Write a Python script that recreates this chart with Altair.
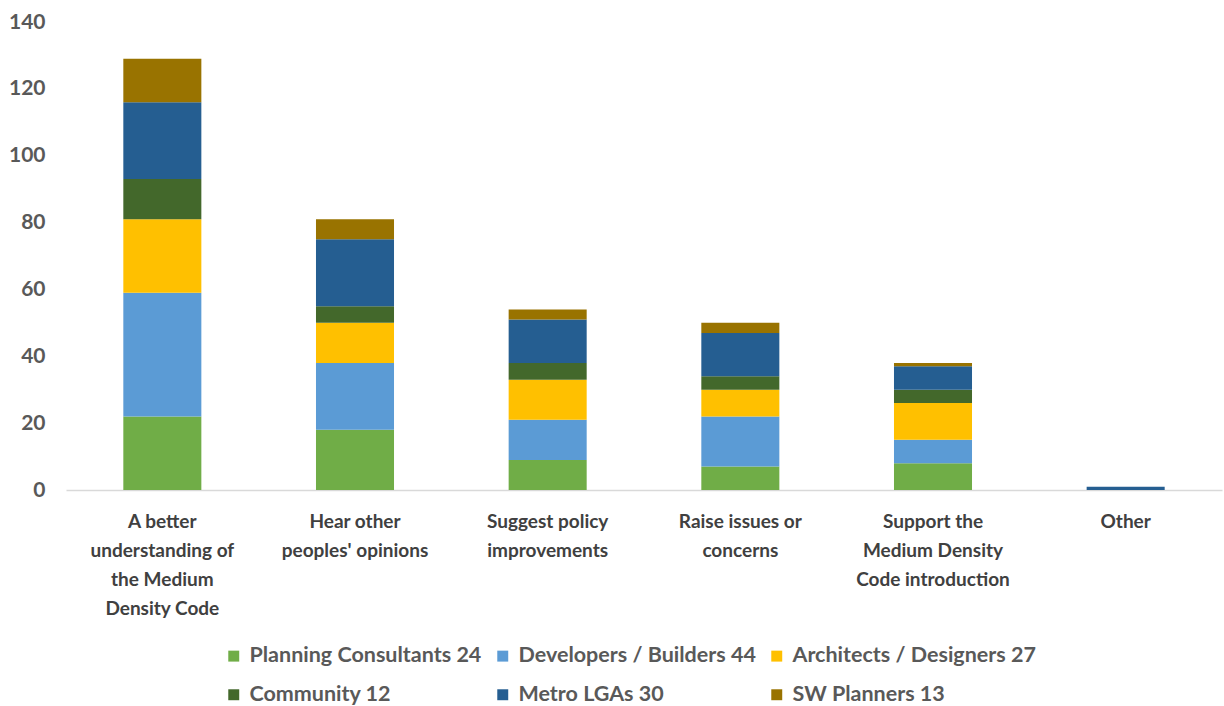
import altair as alt
import pandas as pd

categories = [
    "A better|understanding of|the Medium|Density Code",
    "Hear other|peoples' opinions",
    "Suggest policy|improvements",
    "Raise issues or|concerns",
    "Support the|Medium Density|Code introduction",
    "Other",
]
series = [
    "Planning Consultants 24",
    "Developers / Builders 44",
    "Architects / Designers 27",
    "Community 12",
    "Metro LGAs 30",
    "SW Planners 13",
]
colors = ["#70ad47", "#5b9bd5", "#ffc000", "#43682b", "#255e91", "#997300"]

planning = [22, 18, 9, 7, 8, 0]
developers = [37, 20, 12, 15, 7, 0]
architects = [22, 12, 12, 8, 11, 0]
community = [12, 5, 5, 4, 4, 0]
metro = [23, 20, 13, 13, 7, 1]
sw = [13, 6, 3, 3, 1, 0]

values = [planning, developers, architects, community, metro, sw]
rows = []
for si, (s, vals) in enumerate(zip(series, values)):
    for c, v in zip(categories, vals):
        rows.append({"cat": c, "series": s, "value": v, "idx": si})
df = pd.DataFrame(rows)

FONT = "Lato"

chart = alt.Chart(df).mark_bar(width={"band": 0.405}).encode(
    x=alt.X("cat:N", sort=categories, title=None,
            scale=alt.Scale(paddingInner=0, paddingOuter=0),
            axis=alt.Axis(labelExpr="split(datum.label, '|')", labelAngle=0,
                          labelFontSize=19, labelFontWeight="bold", labelColor="#404040",
                          labelLineHeight=29, labelPadding=22, ticks=False,
                          domainColor="#d9d9d9", domainWidth=1.5, labelFont=FONT)),
    y=alt.Y("value:Q", title=None, stack="zero",
            scale=alt.Scale(domain=[0, 140], nice=False),
            axis=alt.Axis(values=list(range(0, 141, 20)), grid=False, domain=False, ticks=False,
                          labelFontSize=21, labelFontWeight="bold", labelColor="#595959",
                          labelPadding=21, labelFont=FONT)),
    color=alt.Color("series:N", sort=series,
                    scale=alt.Scale(domain=series, range=colors),
                    legend=alt.Legend(title=None, orient="none", legendX=157, legendY=623,
                                      direction="horizontal",
                                      columns=3, symbolType="square", symbolSize=120,
                                      symbolStrokeWidth=0, labelFontSize=21.5,
                                      labelFontWeight="bold", labelColor="#595959",
                                      labelFont=FONT, rowPadding=16, columnPadding=10,
                                      labelOffset=5, labelLimit=0)),
    order=alt.Order("idx:Q", sort="ascending"),
).properties(
    width=1156, height=468,
    background="white",
    autosize=alt.AutoSizeParams(type="none"),
    padding={"left": 66, "top": 22, "right": 2, "bottom": 216},
).configure_view(stroke=None, strokeWidth=0)

chart.save("out.html", embed_options={"renderer": "svg", "actions": False})
